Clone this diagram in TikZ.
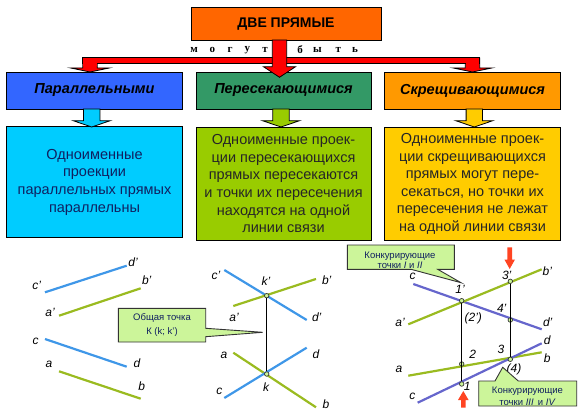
\documentclass[tikz,border=0pt]{standalone}
\usepackage{fontspec}
\setmainfont{Liberation Sans}
\newfontfamily\serifletters{Liberation Serif}
\usetikzlibrary{calc}
\definecolor{topc}{HTML}{FF6600}
\definecolor{parc}{HTML}{3366FF}
\definecolor{perc}{HTML}{339966}
\definecolor{skrc}{HTML}{FF9900}
\definecolor{parl}{HTML}{00CCFF}
\definecolor{perl}{HTML}{99CC00}
\definecolor{skrl}{HTML}{FFCC00}
\definecolor{lblue}{HTML}{3F97E8}
\definecolor{lgreen}{HTML}{9ABB20}
\definecolor{lpurple}{HTML}{6666CC}
\definecolor{callfill}{HTML}{CCF59A}
\definecolor{navytext}{HTML}{102060}
\definecolor{markred}{HTML}{FF4422}
\tikzset{
  x=1pt,y=-1pt,
  boxnode/.style={draw=black,line width=0.9pt,inner sep=0pt,align=center},
  headbox/.style={boxnode,font=\fontsize{14.5}{16}\selectfont\bfseries\itshape},
  textbox/.style={boxnode,text=black!85,font=\fontsize{14.5}{17.6}\selectfont},
  bline/.style={line width=2.2pt,lblue},
  gline/.style={line width=2.2pt,lgreen},
  pline/.style={line width=2.2pt,lpurple},
  linkline/.style={line width=0.9pt,black},
  lab/.style={inner sep=0pt,font=\fontsize{12}{13}\selectfont\itshape},
  pt/.style={circle,draw=black!80,fill=callfill,line width=0.7pt,inner sep=0pt,minimum size=4.5pt},
  callout/.style={draw=black!80,fill=callfill,line width=0.9pt},
  calltext/.style={inner sep=0pt,align=center,text=navytext},
  spaced/.style={inner sep=0pt,font=\fontsize{11}{12}\serifletters\bfseries},
}
\newcommand{\blockarrow}[6]{%
  \path let \p1=(#1),\p2=(#2) in
   [draw=black,line width=0.8pt,fill=#6]
   (\x1-#3,\y1) -- (\x1+#3,\y1) -- (\x1+#3,\y2+#5) -- (\x1+#4,\y2+#5) -- (\x2,\y2)
   -- (\x1-#4,\y2+#5) -- (\x1-#3,\y2+#5) -- cycle;}
\newcommand{\markarrow}[3]{%
  \path let \p1=(#1),\p2=(#2) in
   [fill=markred]
   (\x1-2.3,\y1) -- (\x1+2.3,\y1) -- (\x1+2.3,\y2+#3) -- (\x1+5.3,\y2+#3) -- (\x2,\y2)
   -- (\x1-5.3,\y2+#3) -- (\x1-2.3,\y2+#3) -- cycle;}
\begin{document}
\begin{tikzpicture}
\useasboundingbox (0,0) rectangle (578,417);
% boxes
\node[boxnode,fill=topc,minimum width=190pt,minimum height=32.7pt,font=\fontsize{14}{16}\selectfont\bfseries] (top) at (286,23.7) {ДВЕ ПРЯМЫЕ};
\node[headbox,fill=parc,minimum width=175.6pt,minimum height=37pt] (h1) at (94.5,90.5) {Параллельными};
\node[headbox,fill=perc,minimum width=175pt,minimum height=37pt] (h2) at (283.5,90.5) {Пересекающимися};
\node[headbox,fill=skrc,minimum width=175.6pt,minimum height=37pt] (h3) at (472.5,90.5) {Скрещивающимися};
\node[textbox,fill=parl,text=navytext,minimum width=175.6pt,minimum height=111pt] (t1) at (94.5,182.2) {Одноименные\\проекции\\параллельных прямых\\параллельны};
\node[textbox,fill=perl,minimum width=175pt,minimum height=112.3pt] (t2) at (283.5,183.8) {Одноименные проек-\\ции пересекающихся\\прямых пересекаются\\и точки их пересечения\\находятся на одной\\линии связи};
\node[textbox,fill=skrl,minimum width=175.6pt,minimum height=112.3pt] (t3) at (472.5,183.8) {Одноименные проек-\\ции скрещивающихся\\прямых могут пере-\\секаться, но точки их\\пересечения не лежат\\на одной линии связи};
% words
\foreach \ch/\xx [count=\i] in {м/194,о/212.3,г/230,у/247.3,т/265,б/300,ы/317.3,т/338.3,ь/355}
  \node[spaced] (w\i) at (\xx,50) {\ch};
% block arrows
\coordinate (barL) at (82.7,57.7);
\coordinate (barR) at (479.7,63.3);
\coordinate (s1) at (90,58);
\coordinate (e1) at (90,72);
\coordinate (s3) at (472.5,58);
\coordinate (e3) at (472.5,72);
\blockarrow{s1}{e1}{7.2}{19.2}{4}{red}
\blockarrow{s3}{e3}{7.2}{19.2}{4}{red}
\draw[black,line width=0.8pt,fill=red] (barL) rectangle (barR);
\fill[red] (83.2,58.2) rectangle (96.8,66);
\fill[red] (465.8,58.2) rectangle (479.2,66);
\coordinate (s2) at (279.5,40);
\coordinate (e2) at (279.5,77.3);
\blockarrow{s2}{e2}{7.2}{16}{10.6}{red}
\coordinate (a1s) at (91.7,109);
\coordinate (a1e) at (91.7,127);
\blockarrow{a1s}{a1e}{8.2}{18.5}{6.3}{parl}
\coordinate (a2s) at (281,109);
\coordinate (a2e) at (281,127);
\blockarrow{a2s}{a2e}{8.2}{18.5}{6.3}{perl}
\coordinate (a3s) at (474.3,109);
\coordinate (a3e) at (474.3,127);
\blockarrow{a3s}{a3e}{8.2}{18.5}{6.3}{skrl}
% left drawing
\coordinate (Lc1) at (45,292.3); \coordinate (Ld1) at (126.7,265.7);
\coordinate (La1) at (59,315.7); \coordinate (Lb1) at (140.7,288.3);
\coordinate (Lc2) at (45,339); \coordinate (Ld2) at (126.7,366.7);
\coordinate (La2) at (59,371.3); \coordinate (Lb2) at (140.7,398.7);
\draw[bline] (Lc1) -- (Ld1);
\draw[gline] (La1) -- (Lb1);
\draw[bline] (Lc2) -- (Ld2);
\draw[gline] (La2) -- (Lb2);
\node[lab] (l1) at (36.7,285.7) {c'};
\node[lab] (l2) at (133,262) {d'};
\node[lab] (l3) at (146.7,280) {b'};
\node[lab] (l4) at (50,312.3) {a'};
\node[lab] (l5) at (35.7,341) {c};
\node[lab] (l6) at (137,363.3) {d};
\node[lab] (l7) at (49,364) {a};
\node[lab] (l8) at (141.7,386.7) {b};
% middle drawing
\coordinate (Mc1) at (224.3,270); \coordinate (Md1) at (306.7,320);
\coordinate (Ma1) at (233.3,306); \coordinate (Mb1) at (316,279);
\coordinate (Ma2) at (233.3,352.7); \coordinate (Mb2) at (316,407.3);
\coordinate (Mc2) at (224.3,398); \coordinate (Md2) at (306.7,347.7);
\draw[bline] (Mc1) -- (Md1);
\draw[gline] (Ma1) -- (Mb1);
\draw[gline] (Ma2) -- (Mb2);
\draw[bline] (Mc2) -- (Md2);
\node[pt] (k1) at (266.7,295.7) {};
\node[pt] (k2) at (266.7,374) {};
\draw[linkline] (k1) -- (k2);
\node[lab] (m1) at (216,275) {c'};
\node[lab] (m2) at (266,280.7) {k'};
\node[lab] (m3) at (326.7,280) {b'};
\node[lab] (m4) at (234,317.7) {a'};
\node[lab] (m5) at (316.7,317.7) {d'};
\node[lab] (m6) at (224,355) {a};
\node[lab] (m7) at (316,354.3) {d};
\node[lab] (m8) at (219.3,391) {c};
\node[lab] (m9) at (266,386.7) {k};
\node[lab] (m10) at (326,404) {b};
% callout K
\coordinate (ck) at (262.7,332.3);
\draw[callout] (118.3,308.3) -- (205.7,308.3) -- (205.7,328.3) -- (ck) -- (205.7,336.7) -- (205.7,342) -- (118.3,342) -- cycle;
\node[calltext,font=\fontsize{9.5}{14}\selectfont] (ct) at (162,325) {Общая точка\\К (k; k')};
% right drawing
\coordinate (Rc1) at (413.3,284); \coordinate (Rd1) at (541.7,329.3);
\coordinate (Ra1) at (408.3,324.3); \coordinate (Rb1) at (541.7,269.3);
\coordinate (Ra2) at (408.3,375.7); \coordinate (Rb2) at (541.7,352.3);
\coordinate (Rc2) at (417.7,402.7); \coordinate (Rd2) at (541.7,343.3);
\draw[pline] (Rc1) -- (Rd1);
\draw[gline] (Ra1) -- (Rb1);
\draw[gline] (Ra2) -- (Rb2);
\draw[pline] (Rc2) -- (Rd2);
\node[pt] (p1u) at (461.7,300.7) {};
\node[pt] (p2) at (461.7,364) {};
\node[pt] (p1) at (461.7,384) {};
\node[pt] (p3u) at (510.3,281.3) {};
\node[pt] (p4u) at (510.3,320) {};
\node[pt] (p3) at (510.3,359.3) {};
\draw[linkline] (p1u) -- (p1);
\draw[linkline] (p3u) -- (p3);
\node[lab] (r1) at (412.7,276) {c};
\node[lab] (r2) at (460,289) {1'};
\node[lab] (r3) at (473.3,318.3) {(2')};
\node[lab] (r4) at (506.7,275) {3'};
\node[lab] (r5) at (547.3,271) {b'};
\node[lab] (r6) at (501.7,308.3) {4'};
\node[lab] (r7) at (400,322.3) {a'};
\node[lab] (r8) at (547.7,322.3) {d'};
\node[lab] (r9) at (472.7,354.3) {2};
\node[lab] (r10) at (501,349) {3};
\node[lab] (r11) at (547.3,340.7) {d};
\node[lab] (r12) at (547.3,358.3) {b};
\node[lab] (r13) at (399,369.3) {a};
\node[lab] (r14) at (514,369) {(4)};
\node[lab] (r15) at (467.3,386) {1};
\node[lab] (r16) at (412.3,396) {c};
% red marks
\coordinate (mt1) at (509.7,247.3); \coordinate (mt2) at (509.7,269);
\coordinate (mb1) at (463.3,407.7); \coordinate (mb2) at (463.3,391);
\markarrow{mt1}{mt2}{9.5}
\markarrow{mb1}{mb2}{-9}
% callouts
\coordinate (cu) at (461,282.7);
\coordinate (cd) at (502.7,367.3);
\draw[callout] (347.3,245) -- (454.3,245) -- (454.3,269.3) -- (437.7,269.3) -- (cu) -- (411,269.3) -- (347.3,269.3) -- cycle;
\node[calltext,font=\fontsize{9.5}{10.7}\selectfont] (cut) at (400,260.3) {Конкурирующие\\точки \textit{I} и \textit{II}};
\draw[callout] (478.7,381) -- (495,381) -- (cd) -- (518.3,381) -- (576.7,381) -- (576.7,406) -- (478.7,406) -- cycle;
\node[calltext,font=\fontsize{9.5}{12}\selectfont] (cdt) at (527.5,396.7) {Конкурирующие\\точки \textit{III}\, и \textit{IV}};
\end{tikzpicture}
\end{document}
